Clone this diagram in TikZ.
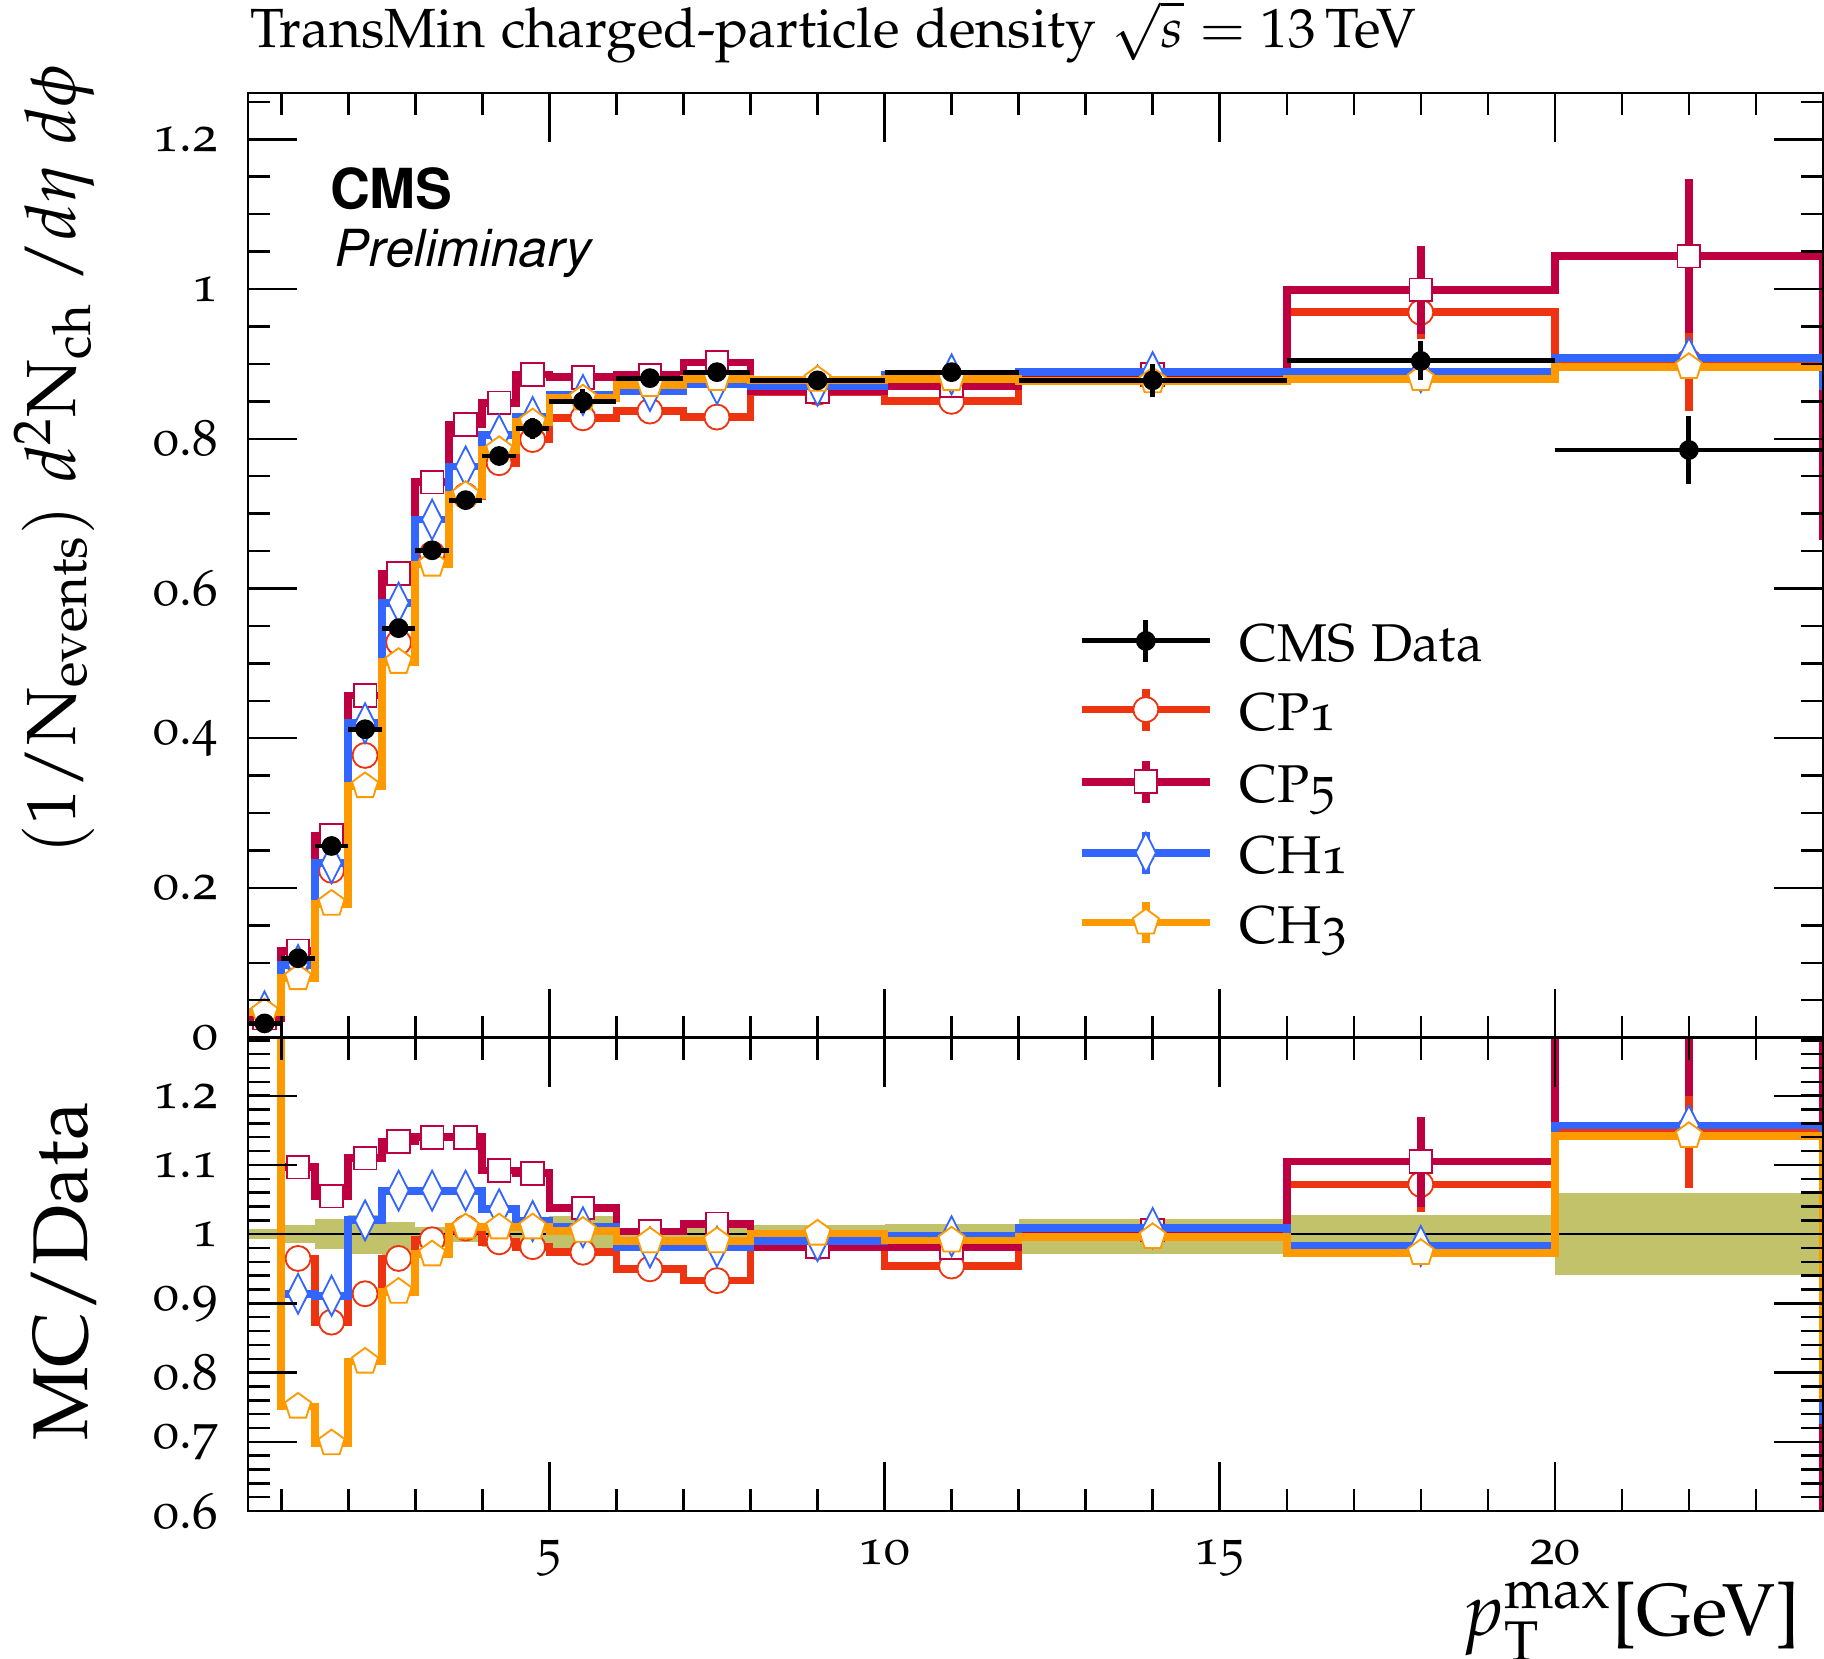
\documentclass[tikz,border=0pt]{standalone}
\usepackage[T1]{fontenc}
\usepackage[osf]{mathpazo}
\usetikzlibrary{shapes.geometric}

\definecolor{cpone}{RGB}{238,51,17}
\definecolor{cpfive}{RGB}{191,0,64}
\definecolor{chone}{RGB}{51,102,255}
\definecolor{chthree}{RGB}{255,153,0}
\definecolor{bandcol}{RGB}{194,194,106}

\tikzset{
  axisframe/.style={line width=0.6pt},
  tickmark/.style={line width=0.6pt},
  mcline/.style={line width=1.9pt},
  dataline/.style={line width=1.2pt},
  mk/.style={fill=white, line width=0.45pt, inner sep=0pt},
  mkcirc/.style={mk, circle, draw=cpone, minimum size=0.215cm},
  mksq/.style={mk, rectangle, draw=cpfive, minimum size=0.195cm},
  mkdiam/.style={mk, diamond, draw=chone, minimum width=0.18cm, minimum height=0.35cm},
  mkpent/.style={mk, regular polygon, regular polygon sides=5, draw=chthree, minimum size=0.235cm},
  mkdot/.style={circle, fill=black, inner sep=0pt, minimum size=0.17cm},
  ticklabel/.style={font=\fontsize{12.5}{14}\selectfont, inner sep=0pt},
  legtext/.style={font=\fontsize{13}{15}\selectfont, inner sep=0pt, anchor=base west},
}

% bins lo/hi/value, upper panel
\newcommand\cponeup{0.5/1/0.027, 1/1.5/0.102, 1.5/2/0.2235, 2/2.5/0.377, 2.5/3/0.528, 3/3.5/0.646, 3.5/4/0.724, 4/4.5/0.768, 4.5/5/0.799, 5/6/0.828, 6/7/0.837, 7/8/0.829, 8/10/0.862, 10/12/0.850, 12/16/0.880, 16/20/0.969, 20/24/0.903}
\newcommand\cpfiveup{0.5/1/0.026, 1/1.5/0.116, 1.5/2/0.270, 2/2.5/0.457, 2.5/3/0.620, 3/3.5/0.742, 3.5/4/0.819, 4/4.5/0.848, 4.5/5/0.886, 5/6/0.882, 6/7/0.885, 7/8/0.902, 8/10/0.863, 10/12/0.871, 12/16/0.886, 16/20/0.999, 20/24/1.044}
\newcommand\choneup{0.5/1/0.035, 1/1.5/0.097, 1.5/2/0.233, 2/2.5/0.420, 2.5/3/0.581, 3/3.5/0.692, 3.5/4/0.763, 4/4.5/0.805, 4.5/5/0.829, 5/6/0.8585, 6/7/0.864, 7/8/0.873, 8/10/0.871, 10/12/0.886, 12/16/0.889, 16/20/0.889, 20/24/0.908}
\newcommand\chthreeup{0.5/1/0.034, 1/1.5/0.0796, 1.5/2/0.179, 2/2.5/0.336, 2.5/3/0.502, 3/3.5/0.632, 3.5/4/0.725, 4/4.5/0.785, 4.5/5/0.822, 5/6/0.854, 6/7/0.872, 7/8/0.880, 8/10/0.879, 10/12/0.880, 12/16/0.877, 16/20/0.880, 20/24/0.896}
\newcommand\cmsdata{0.5/1/0.019/0.003, 1/1.5/0.106/0.003, 1.5/2/0.256/0.004, 2/2.5/0.412/0.005, 2.5/3/0.547/0.006, 3/3.5/0.651/0.007, 3.5/4/0.718/0.008, 4/4.5/0.777/0.009, 4.5/5/0.814/0.014, 5/6/0.850/0.016, 6/7/0.881/0.008, 7/8/0.889/0.008, 8/10/0.878/0.008, 10/12/0.889/0.012, 12/16/0.878/0.022, 16/20/0.904/0.026, 20/24/0.785/0.045}
% bins lo/hi/ratio, lower panel
\newcommand\cponerat{0.5/1/1.5, 1/1.5/0.965, 1.5/2/0.873, 2/2.5/0.914, 2.5/3/0.965, 3/3.5/0.992, 3.5/4/1.009, 4/4.5/0.989, 4.5/5/0.982, 5/6/0.974, 6/7/0.950, 7/8/0.933, 8/10/0.982, 10/12/0.954, 12/16/1.002, 16/20/1.072, 20/24/1.15}
\newcommand\cpfiverat{0.5/1/1.5, 1/1.5/1.097, 1.5/2/1.055, 2/2.5/1.110, 2.5/3/1.134, 3/3.5/1.140, 3.5/4/1.140, 4/4.5/1.092, 4.5/5/1.088, 5/6/1.038, 6/7/1.004, 7/8/1.015, 8/10/0.982, 10/12/0.981, 12/16/1.006, 16/20/1.105, 20/24/1.33}
\newcommand\chonerat{0.5/1/1.5, 1/1.5/0.914, 1.5/2/0.911, 2/2.5/1.020, 2.5/3/1.063, 3/3.5/1.063, 3.5/4/1.063, 4/4.5/1.036, 4.5/5/1.019, 5/6/1.010, 6/7/0.981, 7/8/0.982, 8/10/0.990, 10/12/0.997, 12/16/1.009, 16/20/0.983, 20/24/1.157}
\newcommand\chthreerat{0.5/1/1.5, 1/1.5/0.751, 1.5/2/0.698, 2/2.5/0.816, 2.5/3/0.917, 3/3.5/0.971, 3.5/4/1.010, 4/4.5/1.010, 4.5/5/1.010, 5/6/1.005, 6/7/0.990, 7/8/0.990, 8/10/1.001, 10/12/0.991, 12/16/0.996, 16/20/0.973, 20/24/1.142}
\newcommand\databand{0.5/1/0.993/1.008, 1/1.5/0.987/1.013, 1.5/2/0.978/1.022, 2/2.5/0.971/1.028, 2.5/3/0.970/1.018, 3/3.5/0.982/1.010, 3.5/4/0.989/1.010, 4/4.5/0.982/1.009, 4.5/5/0.977/1.009, 5/6/0.980/1.026, 6/7/0.989/1.009, 7/8/0.994/1.016, 8/10/0.987/1.014, 10/12/0.986/1.015, 12/16/0.972/1.0225, 16/20/0.970/1.028, 20/24/0.9415/1.059}

\begin{document}
\begin{tikzpicture}[line cap=butt, line join=miter]
\useasboundingbox (0,0) rectangle (15.68,14.26);

\node[anchor=base west, inner sep=0pt, font=\fontsize{13.5}{16}\selectfont] (title) at (2.15,13.85)
  {TransMin charged-particle density $\sqrt{s} = 13\,$TeV};

% upper panel
\begin{scope}[shift={(1.8419cm,5.34cm)}, x=0.5762cm, y=6.435cm]
  \begin{scope}
    \clip (0.5,0) rectangle (24,1.2618);
    % CP1
    \draw[mcline, cpone] (0.5,0.027) \foreach \a/\b/\v in \cponeup {-- (\a,\v) -- (\b,\v)};
    \foreach \c/\v/\e in {18/0.969/0.036, 22/0.903/0.066}
      \draw[mcline, cpone] (\c,{\v-\e}) -- (\c,{\v+\e});
    \foreach \a/\b/\v [count=\n] in \cponeup \node[mkcirc] (cponeu\n) at ({(\a+\b)/2},\v) {};
    % CP5
    \draw[mcline, cpfive] (0.5,0.026) \foreach \a/\b/\v in \cpfiveup {-- (\a,\v) -- (\b,\v)} -- (24,0.665);
    \foreach \c/\v/\e in {11/0.871/0.012, 14/0.886/0.018, 18/0.999/0.059, 22/1.044/0.103}
      \draw[mcline, cpfive] (\c,{\v-\e}) -- (\c,{\v+\e});
    \foreach \a/\b/\v [count=\n] in \cpfiveup \node[mksq] (cpfiveu\n) at ({(\a+\b)/2},\v) {};
    % CH1
    \draw[mcline, chone] (0.5,0.035) \foreach \a/\b/\v in \choneup {-- (\a,\v) -- (\b,\v)} -- (24,0.865);
    \foreach \a/\b/\v [count=\n] in \choneup \node[mkdiam] (choneu\n) at ({(\a+\b)/2},\v) {};
    % CH3
    \draw[mcline, chthree] (0.5,0.034) \foreach \a/\b/\v in \chthreeup {-- (\a,\v) -- (\b,\v)};
    \foreach \a/\b/\v [count=\n] in \chthreeup \node[mkpent] (chthreeu\n) at ({(\a+\b)/2},\v) {};
    % data
    \foreach \a/\b/\v/\e [count=\n] in \cmsdata {
      \draw[dataline] (\a,\v) -- (\b,\v);
      \draw[dataline] ({(\a+\b)/2},{\v-\e}) -- ({(\a+\b)/2},{\v+\e});
      \node[mkdot] (data\n) at ({(\a+\b)/2},\v) {};
    }
  \end{scope}
  % ticks
  \foreach \x in {1,2,3,4,6,7,8,9,11,12,13,14,16,17,18,19,21,22,23} {
    \draw[tickmark] (\x,0) -- ++(0,0.19cm);
    \draw[tickmark] (\x,1.2618) -- ++(0,-0.19cm);
  }
  \foreach \x in {5,10,15,20} {
    \draw[tickmark] (\x,0) -- ++(0,0.42cm);
    \draw[tickmark] (\x,1.2618) -- ++(0,-0.42cm);
  }
  \foreach \v in {0.05,0.1,...,1.26} {
    \draw[tickmark] (0.5,\v) -- ++(0.19cm,0);
    \draw[tickmark] (24,\v) -- ++(-0.19cm,0);
  }
  \foreach \v [count=\n] in {0,0.2,0.4,0.6,0.8,1,1.2} {
    \draw[tickmark] (0.5,\v) -- ++(0.42cm,0);
    \draw[tickmark] (24,\v) -- ++(-0.42cm,0);
    \node[ticklabel, anchor=east] (yl\n) at ([xshift=-0.25cm]0.5,\v) {\v};
  }
  \draw[axisframe] (0.5,0) rectangle (24,1.2618);
\end{scope}

% ratio panel
\begin{scope}[shift={(1.8419cm,-2.30cm)}, x=0.5762cm, y=5.95cm]
  \begin{scope}
    \clip (0.5,0.6) rectangle (24,1.284);
    \foreach \a/\b/\lo/\hi in \databand \fill[bandcol] (\a,\lo) rectangle (\b,\hi);
    \draw[line width=0.45pt] (0.5,1) -- (24,1);
    % CP1
    \draw[mcline, cpone] (0.5,1.5) \foreach \a/\b/\v in \cponerat {-- (\a,\v) -- (\b,\v)};
    \foreach \c/\v/\e in {18/1.072/0.04, 22/1.15/0.083}
      \draw[mcline, cpone] (\c,{\v-\e}) -- (\c,{\v+\e});
    \foreach \a/\b/\v [count=\n] in \cponerat \node[mkcirc] (cponer\n) at ({(\a+\b)/2},\v) {};
    % CP5
    \draw[mcline, cpfive] (0.5,1.5) \foreach \a/\b/\v in \cpfiverat {-- (\a,\v) -- (\b,\v)} -- (24,0.5);
    \foreach \c/\v/\e in {11/0.981/0.012, 14/1.006/0.02, 18/1.105/0.065, 22/1.33/0.13}
      \draw[mcline, cpfive] (\c,{\v-\e}) -- (\c,{\v+\e});
    \foreach \a/\b/\v [count=\n] in \cpfiverat \node[mksq] (cpfiver\n) at ({(\a+\b)/2},\v) {};
    % CH1
    \draw[mcline, chone] (0.5,1.5) \foreach \a/\b/\v in \chonerat {-- (\a,\v) -- (\b,\v)} -- (24,0.726);
    \foreach \a/\b/\v [count=\n] in \chonerat \node[mkdiam] (choner\n) at ({(\a+\b)/2},\v) {};
    % CH3
    \draw[mcline, chthree] (0.5,1.5) \foreach \a/\b/\v in \chthreerat {-- (\a,\v) -- (\b,\v)} -- (24,0.76);
    \foreach \a/\b/\v [count=\n] in \chthreerat \node[mkpent] (chthreer\n) at ({(\a+\b)/2},\v) {};
  \end{scope}
  % ticks
  \foreach \x in {1,2,3,4,6,7,8,9,11,12,13,14,16,17,18,19,21,22,23} {
    \draw[tickmark] (\x,0.6) -- ++(0,0.19cm);
    \draw[tickmark] (\x,1.284) -- ++(0,-0.19cm);
  }
  \foreach \x in {5,10,15,20} {
    \draw[tickmark] (\x,0.6) -- ++(0,0.42cm);
    \draw[tickmark] (\x,1.284) -- ++(0,-0.42cm);
    \node[ticklabel, anchor=north] (xl\x) at ([yshift=-0.24cm]\x,0.6) {\x};
  }
  \foreach \v in {0.62,0.64,...,1.285} {
    \draw[tickmark] (0.5,\v) -- ++(0.19cm,0);
    \draw[tickmark] (24,\v) -- ++(-0.19cm,0);
  }
  \foreach \v [count=\n] in {0.6,0.7,0.8,0.9,1,1.1,1.2} {
    \draw[tickmark] (0.5,\v) -- ++(0.42cm,0);
    \draw[tickmark] (24,\v) -- ++(-0.42cm,0);
    \node[ticklabel, anchor=east] (rl\n) at ([xshift=-0.25cm]0.5,\v) {\v};
  }
  \draw[axisframe] (0.5,0.6) rectangle (24,1.284);
\end{scope}

% labels
\node[inner sep=0pt, font=\fontsize{13.5}{16}\fontfamily{phv}\fontseries{b}\selectfont, anchor=base west] (cms) at (2.83,12.47) {CMS};
\node[inner sep=0pt, font=\fontsize{12.5}{15}\fontfamily{phv}\fontshape{sl}\selectfont, anchor=base west] (prelim) at (2.85,11.97) {Preliminary};
\node[inner sep=0pt, rotate=90, font=\fontsize{17}{20}\selectfont] (ylab) at (0.47,10.31)
  {$\left(1/\mathrm{N}_{\mathrm{events}}\right)\, d^{2}\mathrm{N}_{\mathrm{ch}}\;/d\eta\;d\phi$};
\node[inner sep=0pt, rotate=90, font=\fontsize{19}{22}\selectfont] (rlab) at (0.55,3.33) {MC/Data};
\node[inner sep=0pt, anchor=base east, font=\fontsize{18}{21}\selectfont] (xlab) at (15.48,0.20)
  {$p_{\mathrm{T}}^{\mathrm{max}}$[GeV]};

% legend
\draw[dataline] (9.30,8.75) -- (10.40,8.75);
\draw[dataline] (9.85,8.57) -- (9.85,8.93);
\node[mkdot] (legdata) at (9.85,8.75) {};
\node[legtext] (txtdata) at (10.65,8.57) {CMS Data};

\draw[mcline, cpone] (9.30,8.16) -- (10.40,8.16);
\draw[mcline, cpone] (9.85,7.98) -- (9.85,8.34);
\node[mkcirc] (legcpone) at (9.85,8.16) {};
\node[legtext] (txtcpone) at (10.65,7.98) {CP1};

\draw[mcline, cpfive] (9.30,7.54) -- (10.40,7.54);
\draw[mcline, cpfive] (9.85,7.36) -- (9.85,7.72);
\node[mksq] (legcpfive) at (9.85,7.54) {};
\node[legtext] (txtcpfive) at (10.65,7.36) {CP5};

\draw[mcline, chone] (9.30,6.93) -- (10.40,6.93);
\draw[mcline, chone] (9.85,6.75) -- (9.85,7.11);
\node[mkdiam] (legchone) at (9.85,6.93) {};
\node[legtext] (txtchone) at (10.65,6.75) {CH1};

\draw[mcline, chthree] (9.30,6.33) -- (10.40,6.33);
\draw[mcline, chthree] (9.85,6.15) -- (9.85,6.51);
\node[mkpent] (legchthree) at (9.85,6.33) {};
\node[legtext] (txtchthree) at (10.65,6.15) {CH3};
\end{tikzpicture}
\end{document}
